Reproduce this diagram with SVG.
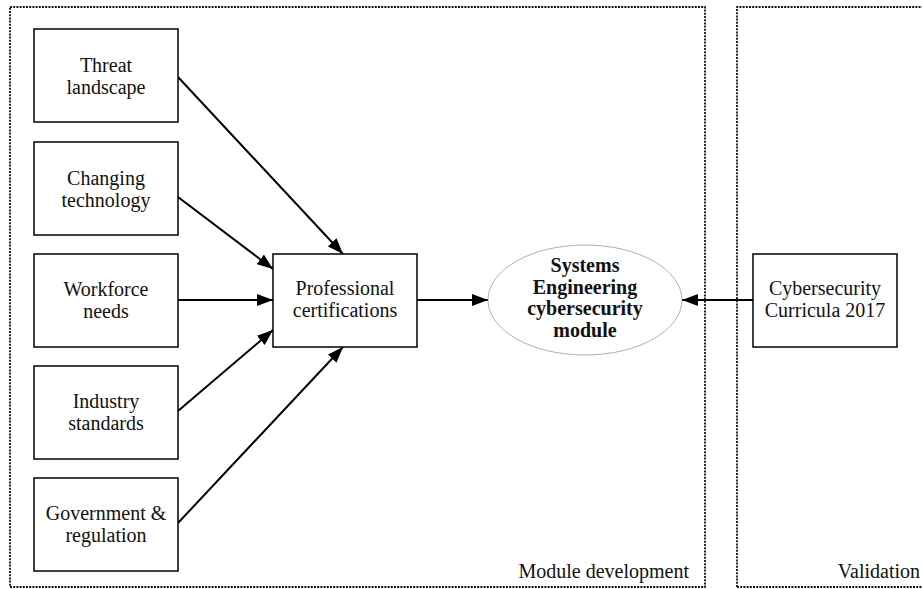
<svg xmlns="http://www.w3.org/2000/svg" width="922" height="589" viewBox="0 0 922 589">
<style>
.panel{fill:none;stroke:#111;stroke-width:1.8;stroke-dasharray:2,1.2}
.box{fill:#fff;stroke:#000;stroke-width:1.5}
.t{font-family:"Liberation Serif","Times New Roman",serif;font-size:20px;fill:#111;text-anchor:middle}
.b{font-weight:bold}
.c{stroke:#000;stroke-width:2;fill:none;marker-end:url(#ah)}
</style>
<defs>
<marker id="ah" markerUnits="userSpaceOnUse" markerWidth="18" markerHeight="12" refX="16" refY="6" orient="auto">
<path d="M0,0 L16,6 L0,12 Z" fill="#000"/>
</marker>
</defs>
<rect fill="#fff" x="0" y="0" width="922" height="589"/>
<g id="panel-module">
<rect class="panel" x="10" y="7" width="695" height="580"/>
<text class="t" x="689" y="578" style="text-anchor:end">Module development</text>
</g>
<g id="panel-validation">
<path class="panel" d="M737,587 L737,7 L924,7"/>
<path class="panel" d="M737,587 L924,587"/>
<text class="t" x="920" y="578" style="text-anchor:end">Validation</text>
</g>
<g id="connectors">
<line class="c" x1="178" y1="77" x2="343" y2="254"/>
<line class="c" x1="178" y1="197" x2="273" y2="269"/>
<line class="c" x1="178" y1="300" x2="273" y2="300"/>
<line class="c" x1="178" y1="411" x2="273" y2="330"/>
<line class="c" x1="178" y1="523" x2="343" y2="347"/>
<line class="c" x1="417" y1="300" x2="488" y2="300"/>
<line class="c" x1="753" y1="300" x2="682" y2="300"/>
</g>
<g id="threat">
<rect class="box" x="34" y="29" width="144" height="93"/>
<text class="t" x="106" y="72">Threat</text>
<text class="t" x="106" y="94">landscape</text>
</g>
<g id="technology">
<rect class="box" x="34" y="142" width="144" height="93"/>
<text class="t" x="106" y="185">Changing</text>
<text class="t" x="106" y="207">technology</text>
</g>
<g id="workforce">
<rect class="box" x="34" y="254" width="144" height="93"/>
<text class="t" x="106" y="296">Workforce</text>
<text class="t" x="106" y="318">needs</text>
</g>
<g id="industry">
<rect class="box" x="34" y="366" width="144" height="93"/>
<text class="t" x="106" y="408">Industry</text>
<text class="t" x="106" y="430">standards</text>
</g>
<g id="government">
<rect class="box" x="34" y="478" width="144" height="93"/>
<text class="t" x="106" y="520">Government &amp;</text>
<text class="t" x="106" y="542">regulation</text>
</g>
<g id="certifications">
<rect class="box" x="273" y="254" width="144" height="93"/>
<text class="t" x="345" y="295">Professional</text>
<text class="t" x="345" y="317">certifications</text>
</g>
<g id="module">
<ellipse cx="585" cy="300" rx="97" ry="55" fill="#fff" stroke="#999" stroke-width="0.8"/>
<text class="t b" x="585" y="272">Systems</text>
<text class="t b" x="585" y="294">Engineering</text>
<text class="t b" x="585" y="315">cybersecurity</text>
<text class="t b" x="585" y="337">module</text>
</g>
<g id="curricula">
<rect class="box" x="753" y="254" width="144" height="93"/>
<text class="t" x="825" y="295">Cybersecurity</text>
<text class="t" x="825" y="317">Curricula 2017</text>
</g>
</svg>
